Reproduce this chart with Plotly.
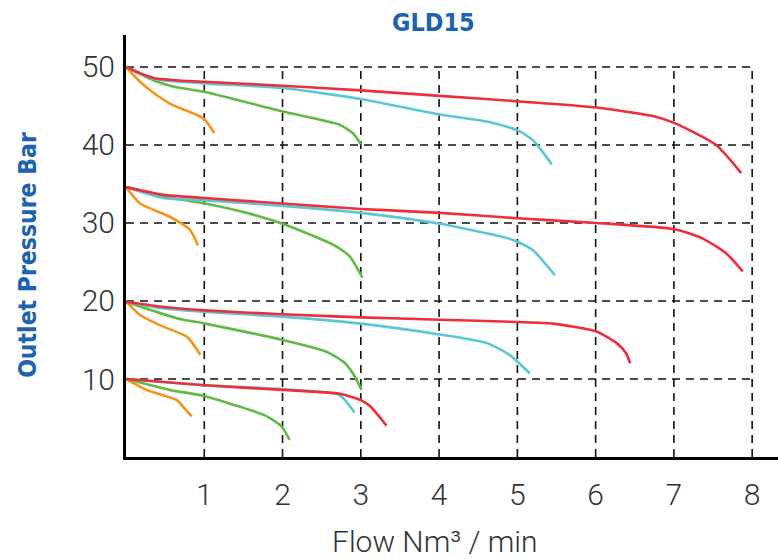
import plotly.graph_objects as go

# ---- data ----
x_ticks = [1, 2, 3, 4, 5, 6, 7, 8]
y_ticks = [10, 20, 30, 40, 50]

# band 50 bar
o50_x = [0, 0.18, 0.35, 0.6, 0.99, 1.13]
o50_y = [50, 48.1, 46.7, 45.1, 43.4, 41.5]
g50_x = [0, 0.35, 0.6, 1.01, 2.0, 2.73, 2.9, 3.0]
g50_y = [50, 48.3, 47.5, 46.8, 44.3, 42.6, 41.5, 40.1]
c50_x = [0, 0.35, 1.0, 2.0, 3.0, 4.01, 4.61, 5.0, 5.2, 5.44]
c50_y = [50, 48.5, 47.9, 47.3, 45.9, 43.9, 43.0, 41.9, 40.6, 37.5]
r50_x = [0, 0.35, 1.0, 2.0, 3.0, 4.01, 5.0, 6.01, 6.78, 7.01, 7.54, 7.86]
r50_y = [50, 48.6, 48.1, 47.6, 47.0, 46.3, 45.6, 44.8, 43.6, 42.8, 40.0, 36.4]

# band 35 bar
o35_x = [0, 0.18, 0.56, 0.82, 0.92]
o35_y = [34.6, 32.5, 30.8, 29.1, 27.1]
g35_x = [0, 0.48, 1.01, 1.58, 2.0, 2.65, 2.86, 3.02]
g35_y = [34.6, 33.4, 32.5, 31.2, 29.9, 27.2, 25.7, 23.0]
c35_x = [0, 0.48, 1.01, 2.0, 3.0, 4.01, 4.82, 5.0, 5.2, 5.48]
c35_y = [34.6, 33.2, 32.9, 32.2, 31.3, 29.9, 28.2, 27.6, 26.5, 23.3]
r35_x = [0, 0.48, 1.0, 2.0, 3.0, 4.01, 5.0, 6.01, 7.01, 7.37, 7.67, 7.88]
r35_y = [34.6, 33.6, 33.2, 32.5, 31.8, 31.3, 30.6, 30.0, 29.2, 28.0, 26.1, 23.8]

# band 20 bar
o20_x = [0, 0.18, 0.43, 0.78, 0.95]
o20_y = [19.9, 18.2, 16.9, 15.4, 13.1]
g20_x = [0, 0.65, 1.01, 2.0, 2.56, 2.78, 2.9, 3.01]
g20_y = [19.9, 17.8, 17.1, 15.0, 13.5, 12.2, 10.7, 8.6]
c20_x = [0, 0.43, 1.01, 2.0, 3.0, 4.01, 4.61, 4.9, 5.16]
c20_y = [19.9, 19.1, 18.6, 18.0, 17.1, 15.7, 14.6, 13.1, 10.7]
r20_x = [0, 0.43, 1.01, 2.0, 3.0, 4.01, 5.0, 5.45, 6.01, 6.27, 6.39, 6.44]
r20_y = [19.9, 19.3, 18.8, 18.3, 17.9, 17.6, 17.3, 17.1, 16.1, 14.6, 13.3, 12.0]

# band 10 bar
o10_x = [0, 0.26, 0.65, 0.75, 0.84]
o10_y = [10.0, 8.6, 7.3, 6.2, 5.2]
g10_x = [0, 0.56, 1.01, 1.8, 1.99, 2.09]
g10_y = [10.0, 8.6, 7.8, 5.2, 3.9, 2.2]
c10_x = [0, 1.01, 2.0, 2.69, 2.78, 2.92]
c10_y = [10.0, 9.2, 8.7, 8.1, 7.5, 5.7]
r10_x = [0, 1.01, 2.0, 2.73, 3.0, 3.12, 3.33]
r10_y = [10.0, 9.2, 8.6, 8.1, 7.3, 6.5, 4.0]

ORANGE = "#F7941D"
GREEN = "#62B945"
CYAN = "#5BC6D6"
RED = "#EE2E38"
BLUE = "#1C62AE"

series = [
    (o50_x, o50_y, ORANGE), (g50_x, g50_y, GREEN), (c50_x, c50_y, CYAN), (r50_x, r50_y, RED),
    (o35_x, o35_y, ORANGE), (g35_x, g35_y, GREEN), (c35_x, c35_y, CYAN), (r35_x, r35_y, RED),
    (o20_x, o20_y, ORANGE), (g20_x, g20_y, GREEN), (c20_x, c20_y, CYAN), (r20_x, r20_y, RED),
    (o10_x, o10_y, ORANGE), (g10_x, g10_y, GREEN), (c10_x, c10_y, CYAN), (r10_x, r10_y, RED),
]

fig = go.Figure()

# dashed grid (stops at x=8 and y=50)
grid_x_max = max(x_ticks)
grid_y_max = max(y_ticks)
shapes = []
for yv in y_ticks:
    shapes.append(dict(type="line", xref="x", yref="y", x0=0, x1=grid_x_max, y0=yv, y1=yv,
                       line=dict(color="#111", width=1.6, dash="8px,6px"), layer="below"))
for xv in x_ticks:
    shapes.append(dict(type="line", xref="x", yref="y", x0=xv, x1=xv, y0=0, y1=grid_y_max,
                       line=dict(color="#111", width=1.6, dash="8px,6px"), layer="below"))

for xs, ys, col in series:
    fig.add_trace(go.Scatter(x=xs, y=ys, mode="lines", line=dict(color=col, width=2.6, shape="spline", smoothing=0.6),
                             showlegend=False, hoverinfo="skip"))

light = "Roboto, Liberation Sans, Arial, sans-serif"
tick_font = dict(family=light, size=30, color="#333", weight=300)
cond = "Liberation Sans Narrow, DejaVu Sans Condensed, Arial Narrow, sans-serif"
fig.update_layout(
    width=778, height=559,
    margin=dict(l=126, r=0, t=35, b=102),
    paper_bgcolor="white", plot_bgcolor="white",
    shapes=shapes,
    xaxis=dict(range=[0, 8.33], tickvals=x_ticks, ticktext=[str(v) for v in x_ticks],
               showgrid=False, zeroline=False, showline=True, linecolor="black", linewidth=3,
               ticks="", tickfont=tick_font, ticklabelstandoff=9),
    yaxis=dict(range=[0, 54.1], tickvals=y_ticks, ticktext=[str(v) for v in y_ticks],
               showgrid=False, zeroline=False, showline=True, linecolor="black", linewidth=3,
               ticks="", tickfont=tick_font, ticklabelstandoff=2),
    annotations=[
        dict(text="<b>GLD15</b>", xref="paper", yref="paper", x=0.471, y=1, yshift=13,
             showarrow=False, yanchor="middle",
             font=dict(family=cond, size=25, color=BLUE)),
        dict(text="<b>Outlet Pressure Bar</b>", xref="paper", yref="paper", x=0, y=0.479, xshift=-98,
             textangle=-90, showarrow=False, xanchor="center", yanchor="middle",
             font=dict(family=cond, size=24.5, color=BLUE)),
        dict(text="Flow Nm³ / min", xref="paper", yref="paper", x=0.474, y=0, yshift=-84,
             showarrow=False, yanchor="middle",
             font=dict(family=light, size=30, color="#333", weight=300)),
    ],
)

fig.write_html("out.html", config={"displayModeBar": False},
               post_script="document.body.style.margin='0';document.body.style.padding='0';")
